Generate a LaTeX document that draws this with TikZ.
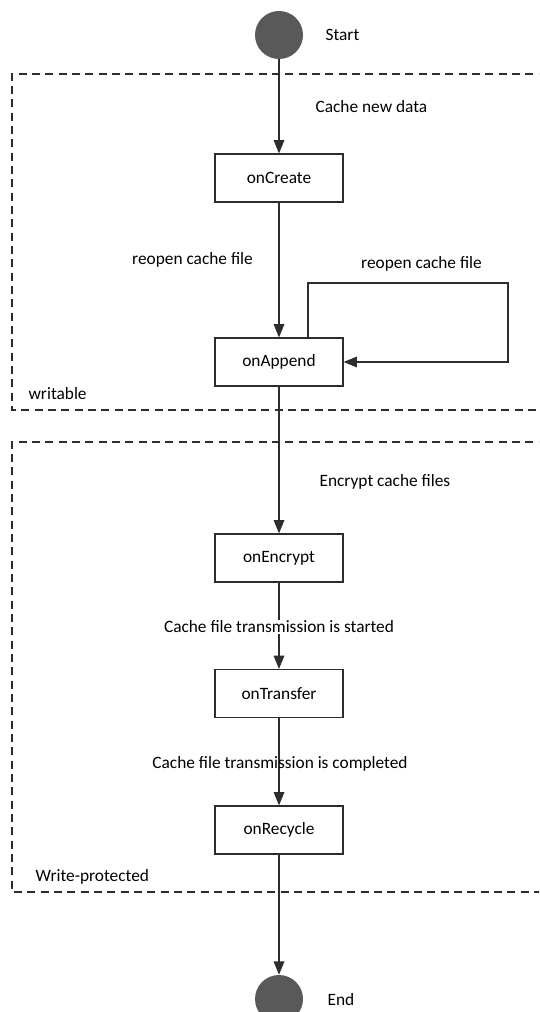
\documentclass[tikz,border=0pt]{standalone}
\usepackage{fontspec}
\setmainfont{Carlito}
\usepackage{tikz}
\usetikzlibrary{arrows.meta,positioning}
\definecolor{termgray}{RGB}{89,89,89}
\definecolor{linegray}{RGB}{45,45,45}

\begin{document}
\begin{tikzpicture}
		[
			x=0.75pt, y=-0.75pt,
			font=\fontsize{13}{15}\selectfont,
			stagebox/.style={draw=linegray, line width=0.9pt, minimum width=96pt, minimum height=36pt, inner sep=0pt},
			terminal/.style={circle, fill=termgray, minimum size=36pt, inner sep=0pt},
			note/.style={draw=none, fill=none, inner sep=1pt},
			frame/.style={dashed, dash pattern=on 6pt off 4pt, line width=0.8pt, draw=linegray},
			arrow/.style={-{Triangle[length=10pt,width=8pt]}, line width=0.9pt, draw=linegray}
		]

		\path[use as bounding box, clip] (0,0) rectangle (539,1012);

		% states
		\node[terminal]		(Start)		at ( 279,   35 ) {};
		\node[stagebox]		(onCreate)	at ( 279,  178 ) {onCreate};
		\node[stagebox]		(onAppend)	at ( 279,  362 ) {onAppend};
		\node[stagebox]		(onEncrypt)	at ( 279,  558 ) {onEncrypt};
		\node[stagebox]		(onTransfer)	at ( 279, 693.5 ) {onTransfer};
		\node[stagebox]		(onRecycle)	at ( 279,  830 ) {onRecycle};
		\node[terminal]		(End)		at ( 279,  999 ) {};

		% dashed frames
		\draw[frame] (560, 74) -| (12, 410) -- (560, 410);
		\draw[frame] (560,442) -| (12, 892) -- (560, 892);

		% transition paths
		\foreach \from/\to in
		{Start/onCreate,onCreate/onAppend,onAppend/onEncrypt,onEncrypt/onTransfer,onTransfer/onRecycle,onRecycle/End}
		\draw[arrow] (\from) -- (\to);

		\coordinate (loopTL) at ( 308, 283 );
		\coordinate (loopTR) at ( 508, 283 );
		\draw[arrow] (onAppend.north -| loopTL) -- (loopTL) -- (loopTR) |- (onAppend.east);

		% labels
		\node[note, anchor=west]	(startTxt)	at ( 324,   35 ) {Start};
		\node[note, anchor=west]	(endTxt)	at ( 326, 1000 ) {End};
		\node[note, anchor=west]	(newData)	at ( 314,  107 ) {Cache new data};
		\node[note]			(reopenA)	at ( 192.5, 260 ) {reopen cache file};
		\node[note]			(reopenB)	at ( 421.5, 264 ) {reopen cache file};
		\node[note, anchor=west]	(writable)	at (  27,  394 ) {writable};
		\node[note, anchor=west]	(encrypt)	at ( 318,  482 ) {Encrypt cache files};
		\node[note, fill=white]	(started)	at ( 279,  627 ) {Cache file transmission is started};
		\node[note]			(completed)	at ( 280,  764 ) {Cache file transmission is completed};
		\node[note, anchor=west]	(protected)	at (  34,  877 ) {Write-protected};

	\end{tikzpicture}
\end{document}
